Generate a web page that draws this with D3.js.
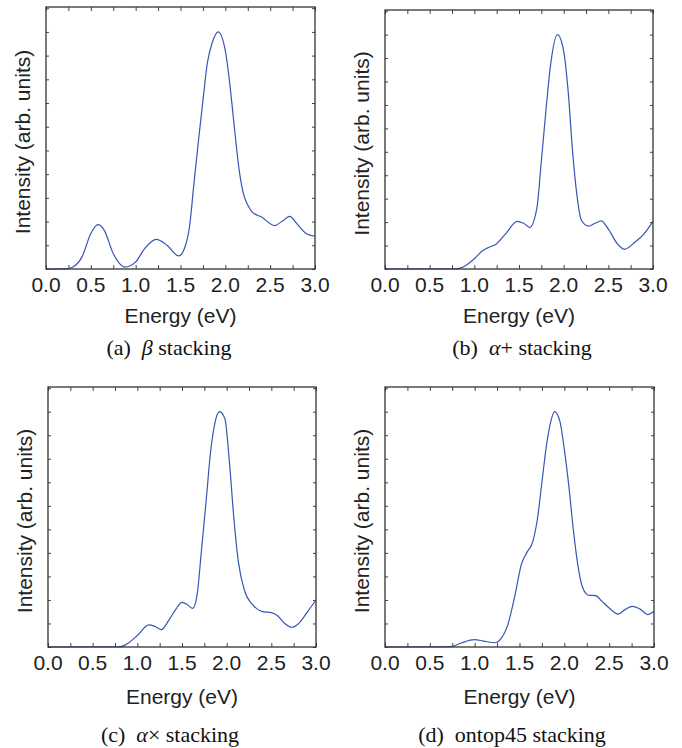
<!DOCTYPE html>
<html>
<head>
<meta charset="utf-8">
<script src="https://cdn.jsdelivr.net/npm/d3@7"></script>
<style>
  body { margin: 0; background: #fff; }
  svg { display: block; }
</style>
</head>
<body>
<div id="chart"></div>
<script>
// tick labels
var xTickValues = [0, 0.5, 1.0, 1.5, 2.0, 2.5, 3.0];

// (a) beta stacking
var betaEnergy    = [0, 0.25, 0.3, 0.4, 0.5, 0.58, 0.65, 0.75, 0.88, 1.0, 1.1, 1.23, 1.35, 1.48, 1.55, 1.6, 1.65, 1.7, 1.75, 1.8, 1.85, 1.92, 2.0, 2.05, 2.1, 2.15, 2.2, 2.25, 2.3, 2.4, 2.55, 2.63, 2.72, 2.8, 2.9, 3.0];
var betaIntensity = [0, 0.002, 0.008, 0.05, 0.15, 0.187, 0.163, 0.065, 0.008, 0.03, 0.086, 0.125, 0.1, 0.055, 0.093, 0.177, 0.36, 0.54, 0.71, 0.87, 0.95, 1.0, 0.92, 0.78, 0.6, 0.43, 0.32, 0.27, 0.24, 0.22, 0.183, 0.2, 0.222, 0.19, 0.15, 0.138];

// (b) alpha+ stacking
var alphaPlusEnergy    = [0, 0.8, 0.85, 0.9, 1.0, 1.1, 1.15, 1.25, 1.35, 1.48, 1.55, 1.62, 1.7, 1.75, 1.8, 1.85, 1.93, 2.0, 2.05, 2.1, 2.15, 2.2, 2.28, 2.35, 2.42, 2.5, 2.6, 2.68, 2.8, 2.9, 3.0];
var alphaPlusIntensity = [0, 0.001, 0.005, 0.014, 0.044, 0.08, 0.09, 0.108, 0.15, 0.203, 0.195, 0.178, 0.26, 0.46, 0.67, 0.86, 1.0, 0.93, 0.76, 0.5, 0.31, 0.207, 0.183, 0.195, 0.205, 0.17, 0.108, 0.084, 0.115, 0.15, 0.203];

// (c) alpha-times stacking
var alphaTimesEnergy    = [0, 0.8, 0.85, 0.9, 1.0, 1.13, 1.2, 1.27, 1.35, 1.43, 1.5, 1.56, 1.62, 1.67, 1.72, 1.77, 1.82, 1.87, 1.92, 1.98, 2.03, 2.08, 2.13, 2.2, 2.3, 2.4, 2.5, 2.57, 2.65, 2.73, 2.8, 2.9, 3.0];
var alphaTimesIntensity = [0, 0.001, 0.006, 0.017, 0.049, 0.094, 0.087, 0.074, 0.112, 0.16, 0.19, 0.18, 0.164, 0.225, 0.42, 0.62, 0.83, 0.955, 1.0, 0.97, 0.79, 0.55, 0.365, 0.24, 0.176, 0.15, 0.146, 0.133, 0.1, 0.084, 0.098, 0.147, 0.2];

// (d) ontop45 stacking
var ontopEnergy    = [0, 0.7, 0.75, 0.85, 1.0, 1.1, 1.22, 1.3, 1.37, 1.45, 1.52, 1.58, 1.65, 1.7, 1.75, 1.8, 1.85, 1.89, 1.95, 2.0, 2.05, 2.1, 2.15, 2.2, 2.27, 2.35, 2.42, 2.5, 2.6, 2.68, 2.76, 2.85, 2.93, 3.0];
var ontopIntensity = [0, 0.001, 0.003, 0.017, 0.031, 0.025, 0.018, 0.039, 0.095, 0.22, 0.35, 0.4, 0.45, 0.545, 0.7, 0.855, 0.96, 1.0, 0.96, 0.84, 0.685, 0.5, 0.35, 0.257, 0.22, 0.218, 0.194, 0.166, 0.14, 0.16, 0.173, 0.16, 0.138, 0.152];

var panels = [
  { x: betaEnergy, y: betaIntensity, left: 46, top: 7, right: 315, bottom: 269, label: "(a)", sym: "\u03b2", rest: " stacking", capY: 355, titleDy: 47, capX: 169 },
  { x: alphaPlusEnergy, y: alphaPlusIntensity, left: 385, top: 10, right: 653, bottom: 269, label: "(b)", sym: "\u03b1", rest: "+ stacking", capY: 355, titleDy: 47, capX: 522 },
  { x: alphaTimesEnergy, y: alphaTimesIntensity, left: 48, top: 387, right: 316, bottom: 647, label: "(c)", sym: "\u03b1", rest: "\u00d7 stacking", capY: 742, titleDy: 50, capX: 170 },
  { x: ontopEnergy, y: ontopIntensity, left: 385, top: 387, right: 654, bottom: 647, label: "(d)", sym: "", rest: "ontop45 stacking", capY: 742, titleDy: 50, capX: 512 }
];

var chart_width  = 682;
var chart_height = 748;
var sansFont  = "Liberation Sans, Arial, Helvetica, sans-serif";
var serifFont = "Liberation Serif, Times New Roman, serif";

var svg = d3.select('#chart')
  .append('svg')
  .attr('width', chart_width)
  .attr('height', chart_height);

panels.forEach(function(p){
  var x_scale = d3.scaleLinear().domain([0, 3]).range([p.left, p.right]);
  var y_scale = d3.scaleLinear().domain([0, 1.105]).range([p.bottom, p.top]);

  var g = svg.append('g');

  // inside ticks on all four sides
  var xMinor = d3.range(0, 3.001, 0.25);
  var yMinor = d3.range(0, 1.101, 0.1);

  g.append('g')
    .attr('transform', 'translate(0,' + p.bottom + ')')
    .call(d3.axisBottom(x_scale).tickValues(xMinor).tickSize(-4).tickFormat(''))
    .call(function(a){ a.select('.domain').remove(); });

  g.append('g')
    .attr('transform', 'translate(0,' + p.top + ')')
    .call(d3.axisTop(x_scale).tickValues(xMinor).tickSize(-4).tickFormat(''))
    .call(function(a){ a.select('.domain').remove(); });

  g.append('g')
    .attr('transform', 'translate(' + p.left + ',0)')
    .call(d3.axisLeft(y_scale).tickValues(yMinor).tickSize(-3).tickFormat(''))
    .call(function(a){ a.select('.domain').remove(); });

  g.append('g')
    .attr('transform', 'translate(' + p.right + ',0)')
    .call(d3.axisRight(y_scale).tickValues(yMinor).tickSize(-3).tickFormat(''))
    .call(function(a){ a.select('.domain').remove(); });

  g.selectAll('.tick line').attr('stroke', '#444');

  // tick labels
  g.append('g')
    .selectAll('text')
    .data(xTickValues)
    .enter()
    .append('text')
    .attr('x', function(d){ return x_scale(d); })
    .attr('y', p.bottom + 23)
    .attr('text-anchor', 'middle')
    .attr('font-family', sansFont)
    .attr('font-size', 21)
    .attr('fill', '#222')
    .text(function(d){ return d.toFixed(1); });

  // curve
  var pts = p.x.map(function(v, i){ return [v, p.y[i]]; });
  var line = d3.line()
    .x(function(d){ return x_scale(d[0]); })
    .y(function(d){ return y_scale(d[1]); })
    .curve(d3.curveMonotoneX);

  g.append('path')
    .datum(pts)
    .attr('d', line)
    .attr('fill', 'none')
    .attr('stroke', '#3556b4')
    .attr('stroke-width', 1.2);

  // frame
  g.append('rect')
    .attr('x', p.left)
    .attr('y', p.top)
    .attr('width', p.right - p.left)
    .attr('height', p.bottom - p.top)
    .attr('fill', 'none')
    .attr('stroke', '#333')
    .attr('stroke-width', 1.3);

  // axis titles
  g.append('text')
    .attr('x', (p.left + p.right) / 2)
    .attr('y', p.bottom + p.titleDy + 7)
    .attr('text-anchor', 'middle')
    .attr('font-family', sansFont)
    .attr('font-size', 21)
    .attr('fill', '#222')
    .text('Energy (eV)');

  g.append('text')
    .attr('transform', 'translate(' + (p.left - 16) + ',' + ((p.top + p.bottom) / 2 + 4) + ') rotate(-90)')
    .attr('text-anchor', 'middle')
    .attr('font-family', sansFont)
    .attr('font-size', 21)
    .attr('fill', '#222')
    .text('Intensity (arb. units)');

  // caption
  var cap = g.append('text')
    .attr('x', p.capX)
    .attr('y', p.capY)
    .attr('text-anchor', 'middle')
    .attr('font-family', serifFont)
    .attr('font-size', 22)
    .attr('fill', '#111');
  cap.append('tspan').text(p.label + '\u00a0\u00a0');
  if (p.sym) cap.append('tspan').attr('font-style', 'italic').text(p.sym);
  cap.append('tspan').text(p.rest);
});
</script>
</body>
</html>
